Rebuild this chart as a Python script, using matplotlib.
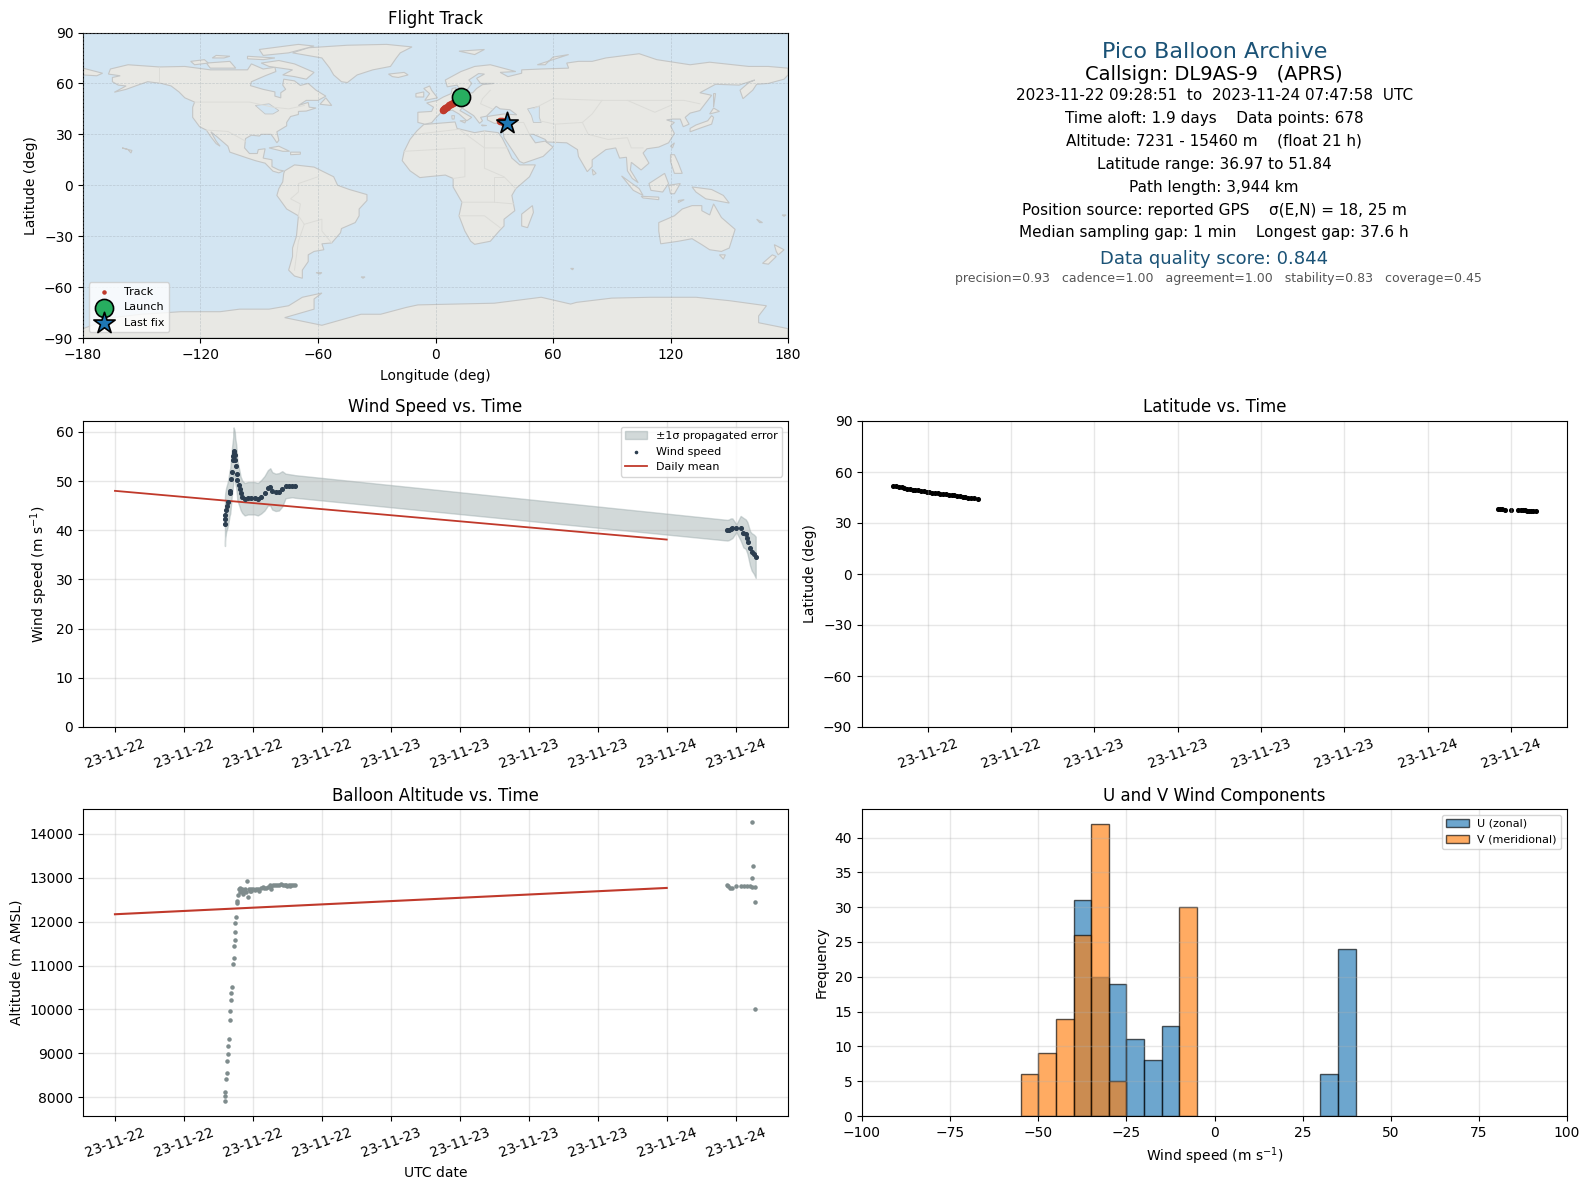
import numpy as np
import pandas as pd
import matplotlib
matplotlib.use('Agg')
import matplotlib.pyplot as plt
import matplotlib.dates as mdates

# hours after 2023-11-22 00:00 UTC
wind_hours = [9.57, 9.57, 9.59, 9.68, 9.77, 9.86, 9.97, 10.03, 10.12, 10.17, 10.29, 10.29, 10.32, 10.38,
              10.43, 10.46, 10.55, 10.61, 10.64, 10.75, 10.84, 10.93, 11.07, 11.28, 11.57, 11.86, 12.14,
              12.43, 12.72, 13.01, 13.30, 13.51, 13.68, 13.97, 14.26, 14.55, 14.84, 15.13, 15.42, 15.65,
              53.28, 53.42, 53.57, 53.71, 54.06, 54.43, 54.67, 54.87, 55.01, 55.10, 55.25, 55.39, 55.59, 55.74]
wind_speed = [41.3, 42.2, 43.0, 44.2, 44.9, 45.8, 47.5, 48.0, 50.4, 51.8, 54.2, 55.0, 56.1, 55.7,
              55.2, 54.2, 53.0, 51.4, 50.2, 49.2, 48.4, 47.5, 46.8, 46.3, 46.5, 46.5, 46.5,
              46.3, 46.8, 47.5, 48.6, 48.8, 48.0, 47.7, 47.8, 48.4, 49.0, 49.0, 49.0, 48.9,
              40.0, 40.1, 40.3, 40.4, 40.4, 40.4, 39.5, 39.2, 38.5, 37.7, 36.3, 35.6, 35.1, 34.5]
wind_sigma = [4.5, 4.5, 4.5, 4.5, 4.5, 4.5, 4.6, 4.6, 4.7, 4.7, 4.8, 4.8, 4.8, 4.8,
              4.7, 4.6, 4.4, 4.2, 4.0, 3.8, 3.6, 3.4, 3.3, 3.3, 3.3, 3.3, 3.3,
              3.3, 3.4, 3.5, 3.6, 3.8, 3.8, 3.8, 3.8, 3.6, 2.5, 2.4, 2.3, 2.3,
              2.1, 2.1, 2.1, 2.0, 0.8, 2.5, 3.0, 3.0, 3.2, 3.3, 3.5, 3.8, 4.0, 4.2]
mean_hours = [0, 48]
wind_mean = [48.0, 38.1]
alt_mean = [12170, 12770]

lat_hours = [9.48, 9.7, 9.9, 10.1, 10.3, 10.5, 10.7, 10.9, 11.1, 11.3, 11.5, 11.7, 11.9, 12.1, 12.3, 12.5,
             12.7, 12.9, 13.1, 13.3, 13.5, 13.7, 13.9, 14.1, 14.3, 14.5, 14.7, 14.9, 15.1, 15.3, 15.6,
             53.1, 53.25, 53.4, 53.55, 54.05, 54.55, 54.7, 54.85, 55.0, 55.15, 55.3, 55.45, 55.6, 55.8]
lat_deg = [51.84, 51.5, 51.2, 50.9, 50.5, 50.1, 49.8, 49.6, 49.4, 49.2, 48.9, 48.7, 48.4, 48.2, 47.9, 47.7,
           47.5, 47.3, 47.1, 46.8, 46.6, 46.4, 46.2, 46.0, 45.7, 45.4, 45.2, 45.0, 44.8, 44.6, 44.3,
           38.0, 38.0, 38.0, 37.9, 37.9, 37.6, 37.5, 37.5, 37.4, 37.3, 37.2, 37.1, 37.0, 36.97]

alt_hours = [9.57, 9.57, 9.57, 9.65, 9.74, 9.74, 9.83, 9.83, 9.91, 10.0, 10.0, 10.09, 10.09, 10.17, 10.26, 10.35,
             10.35, 10.43, 10.43, 10.43, 10.52, 10.61, 10.61, 10.7, 10.78, 10.9, 10.9, 11.0, 11.07, 11.13,
             11.19, 11.28, 11.36, 11.48, 11.57, 11.65, 11.71, 11.8, 11.86, 12.0, 12.14, 12.29, 12.43, 12.52,
             12.72, 12.87, 13.0, 13.16, 13.3, 13.45, 13.6, 13.6, 13.74, 13.88, 14.09, 14.3, 14.46, 14.6,
             14.75, 14.9, 15.0, 15.13, 15.25, 15.33, 15.48, 15.62,
             53.28, 53.36, 53.48, 53.65, 54.06, 54.43, 54.72, 55.01, 55.25, 55.45, 55.65,
             55.45, 55.54, 55.45, 55.71, 55.71]
alt_m = [7920, 8015, 8114, 8409, 8545, 8818, 8977, 9159, 9318, 9750, 9955, 10205, 10364, 10500, 11045, 11182,
         11455, 11591, 11773, 11977, 12114, 12432, 12477, 12614, 12735, 12773, 12674, 12697, 12750, 12621,
         12697, 12735, 12674, 12924, 12568, 12750, 12697, 12697, 12750, 12735, 12720, 12750, 12750, 12697,
         12773, 12795, 12773, 12773, 12795, 12826, 12810, 12750, 12826, 12826, 12826, 12848, 12871, 12848,
         12826, 12848, 12810, 12841, 12810, 12826, 12848, 12848,
         12847, 12809, 12763, 12779, 12817, 12809, 12824, 12824, 12809, 12794, 12786,
         14282, 13275, 13000, 12450, 10000]

hist_edges = [-55, -50, -45, -40, -35, -30, -25, -20, -15, -10, -5, 30, 35, 40]
u_counts = [0, 0, 0, 31, 20, 19, 11, 8, 13, 0, 0, 6, 24]
v_counts = [6, 9, 14, 26, 42, 5, 0, 0, 0, 30, 0, 0, 0]

track_lon = [12.9, 12.0, 11.0, 10.0, 9.0, 8.0, 7.0, 6.0, 5.0, 4.2, 3.6, 33.0, 33.8, 34.5, 35.5, 36.3]
track_lat = [51.84, 51.0, 50.2, 49.4, 48.6, 47.8, 47.0, 46.2, 45.5, 44.9, 44.3, 37.8, 37.6, 37.5, 37.2, 36.97]
launch = (12.9, 51.84)
last_fix = (36.3, 36.97)

land = [
    # north america
    [(-166,68.5),(-157,71),(-141,69.7),(-128,70),(-115,68),(-108,68),(-96,68),(-94,71.5),(-88,68.5),(-82,69.5),
     (-81.5,67),(-87,64.5),(-94,61),(-94.5,58.7),(-88,56.5),(-82,55),(-82,52.5),(-79,51.5),(-79,54.5),(-76.5,56.5),
     (-78,59),(-77.5,62.5),(-72,61.5),(-69,58.8),(-65,60),(-61,56),(-56,52.5),(-60,50),(-66,50),(-70,47),(-65,48.8),
     (-64.5,46),(-61,45.5),(-66,43.7),(-70,43.5),(-70,41.7),(-74,40.5),(-76,37),(-76,35),(-81,31.5),(-80,26.5),(-81,25),
     (-82.7,28),(-84,30),(-89,30),(-90,29),(-94,29.5),(-97,27.5),(-97.5,22),(-95,18.7),(-91,18.7),(-90.5,21),(-87,21.5),
     (-88,16),(-83.5,15),(-83.5,11),(-80,9),(-77.5,8.5),(-80,7.3),(-83,8.3),(-87,13),(-92,14.5),(-96,16),(-105,19.5),
     (-106,23),(-112,29),(-114.7,31.5),(-112,26),(-110,23),(-112,24.5),(-115,29),(-117,32.5),(-120.5,34.5),(-124,40),
     (-124,46),(-123,49),(-128,51.5),(-131,55),(-135,58.5),(-140,60),(-147,61),(-152,59),(-158,56.5),(-164,54.8),
     (-158,58.5),(-162,59),(-165,61),(-165,63.5),(-161,64.5),(-167,65.5)],
    [(-73,78),(-65,81),(-45,82.5),(-25,83),(-12,81.5),(-18,78),(-20,75),(-23,70),(-32,68),(-40,65),(-45,60.5),(-48,61),(-52,65),(-54,69),(-58,75)],
    [(-80,73.5),(-72,71.5),(-62,66.5),(-66,62.5),(-72,64),(-78,65),(-73,68),(-85,70),(-89,72)],
    [(-117,72),(-105,73),(-102,69),(-115,69)],
    [(-90,80),(-70,83),(-62,82),(-75,78),(-88,76.5)],
    [(-125,73),(-118,74),(-116,72),(-123,71)],
    [(-96,76),(-82,75),(-88,74),(-96,74.5)],
    [(-112,76.5),(-105,76),(-108,75),(-114,75)],
    [(-59,47.7),(-56,51.5),(-53,47)],
    [(-24,65.5),(-16,66.5),(-14,65),(-19,63.5),(-22,64)],
    [(-85,22),(-80,23),(-74.5,20),(-78,20)],
    [(-74,19.5),(-69,19.5),(-69,18.3),(-74,18)],
    [(-160,22),(-155,20.5),(-155.5,19),(-157,21)],
    [(-180,69),(-170,66),(-173,64.5),(-180,65)],
    [(12,79),(25,80),(20,77)],
    [(52,71),(68,77),(60,75.5),(56,71)],
    # south america
    [(-77,8.5),(-72,12),(-62,10.7),(-52,5),(-50,0),(-44,-2.5),(-35,-5.5),(-35,-9),(-39,-14),(-39,-18),(-41,-22),
     (-48,-25.5),(-48.5,-28),(-53,-34),(-58,-34.5),(-57,-38),(-62,-39),(-65,-41),(-65,-45),(-68,-50),(-68,-54.8),
     (-72,-53.5),(-75,-50),(-73,-42),(-73,-37),(-71,-30),(-70,-18),(-76,-14),(-81,-6),(-80,-2),(-78,2),(-77.5,7)],
    [(-61,-51.5),(-58,-51.5),(-59,-52.3)],
    [(-38,-54),(-36,-54),(-37,-54.8)],
    # africa
    [(-6,35.8),(10,37.3),(11,33.5),(20,31),(25,32),(32,31),(34,28),(37,21),(39,16),(43,12),(51,12),(48,5),(41,-2),
     (39,-6),(40.5,-15),(35,-20),(35,-24),(32.5,-27),(28,-33),(20,-34.8),(18,-33),(15,-27),(12,-18),(13.5,-10),(9,-1),
     (9,4),(5,6),(-4,5),(-8,4.5),(-13,8.5),(-17,14.5),(-16,20),(-13,27),(-9.5,32)],
    [(49.5,-12),(50,-16),(47,-25),(44,-24),(44,-17)],
    # eurasia
    [(-9,37),(-9,43),(-2,43.5),(-1,46),(-4.5,48.5),(1,50),(4,52),(8,54),(8.5,57),(10.5,57.5),(10,54),(14,54),(19,54.5),
     (21,57),(24,59.3),(30,60),(23,60),(21,63),(25,65.5),(22,65.8),(17,62),(18.5,60),(16,56),(13,55.5),(11,59),(6,58),
     (5,62),(13,67),(20,70),(28,71),(41,67),(33,66.5),(37,64),(44,66),(44,68),(54,68.5),(68,69),(67,72),(73,73),(80,73),
     (87,75),(104,77.5),(113,74),(130,71),(140,72.5),(160,70),(170,70),(180,69),(180,65),(178,62.5),(170,60),(164,59.5),
     (162,56),(157,51),(155.5,56),(160,60.5),(163,62),(155,59),(143,59.5),(135,54.5),(141,53),(135,44),(130,42.5),
     (127.5,40),(129.5,36),(126.5,34.5),(125,39),(121,39),(118,38.5),(122,37),(120,35),(122,30.5),(119,25),(114,22.5),
     (108,21.5),(106,19),(109,13),(105,9),(100,13.5),(99.5,9),(103.5,1.5),(100.5,4),(98,8.5),(97.5,16.5),(94,16),(92,22),
     (87,21),(80,15),(80,11),(77.5,8),(73,17),(72.5,21),(67,25),(57,25.5),(56,27),(50,30),(48,30),(51,25),(56,26),
     (60,22.5),(55,17),(45,13),(43,14),(39,21),(35,28),(34.5,31.5),(36,36.5),(30,36.5),(26.5,38.5),(26.5,40.5),(29,41),
     (35,42),(41.5,41.5),(38,44.5),(33,45),(31,46.5),(28,43),(26,40.7),(23,40),(24,38),(22.5,36.5),(19.5,41),(13.5,45.5),
     (12.5,44),(18.5,40),(16,38),(12,42),(8.5,44.3),(3,43),(0,39.5),(-2,36.8),(-5.5,36)],
    [(-5.5,50),(1,51.5),(-2,56),(-3,58.5),(-6,57),(-3,54)],
    [(-10,52),(-6,52),(-6,55),(-10,54)],
    [(12.5,38),(15.5,38),(15,36.7)],
    [(8.3,41),(9.7,41),(9.5,39),(8.5,39)],
    [(23.5,35.5),(26,35.2),(24,35)],
    [(130,31.5),(136,34),(141,36),(142,40),(141,41),(139,38),(133,35.5),(130,33.5)],
    [(140,42),(145,43.5),(142,45.5)],
    [(142,46),(143,54),(142,54)],
    [(120,23),(122,25),(121,22)],
    [(120,18),(122,18),(124,13),(126,7),(122,7),(120,14)],
    [(109,1),(117,7),(119,1),(116,-4),(110,-3)],
    [(95,5.5),(104,-2),(106,-6),(101,-3)],
    [(105,-6.5),(114,-7),(114,-8.5),(106,-7.5)],
    [(119,0),(125,1),(122,-5),(120,-5)],
    [(124,-9),(127,-8.5),(124,-10.2)],
    [(131,-1),(141,-2.5),(147,-6),(150,-10.5),(143,-9),(138,-8),(133,-4)],
    [(80,9.5),(82,7),(80.5,6)],
    [(69,-49),(70.5,-49),(70,-49.8)],
    # australia and around
    [(114,-22),(122,-18),(126,-14),(131,-12),(136,-12),(136,-15),(140,-17.5),(142,-11),(146,-19),(153,-26),(150,-37),
     (146,-39),(140,-38),(136,-35),(131,-31.5),(124,-33),(115,-34.5),(114,-27)],
    [(145,-41),(148,-41),(147,-43.5)],
    [(173,-35),(178,-38),(175,-41),(174,-39)],
    [(172,-41),(174,-42),(170,-46.5),(167,-46)],
    [(164,-20),(167,-22),(165.5,-22)],
    [(177,-17.5),(179,-17.5),(178,-18.3)],
    # antarctica
    [(-180,-90),(-180,-84.5),(-165,-78),(-150,-76),(-130,-74.5),(-110,-74.5),(-100,-73),(-85,-73),(-75,-71),(-68,-66),
     (-58,-63.5),(-62,-67),(-62,-73),(-77,-78),(-58,-82.5),(-38,-76),(-28,-76),(-15,-72),(-9,-70.5),(10,-70),(30,-69.5),
     (54,-66),(69,-70),(72,-69),(90,-66.5),(110,-66),(133,-66),(150,-68),(169,-71),(165,-77),(165,-81),(178,-84),
     (180,-84.5),(180,-90)],
]
lakes = [
    [(47,45),(53,46.5),(53,40),(54,37),(50,37),(49,41)],
    [(-92,47),(-85,48),(-80,44),(-83,42),(-87,42)],
]
borders = [
    [(-141,69.7),(-141,60)],
    [(-123,49),(-95,49),(-83,46),(-75,45),(-67,47)],
    [(-117,32.5),(-106,31.7),(-97,26)],
    [(-70,-18),(-67,-23),(-70,-33),(-72,-50)],
    [(-70,-18),(-69,-11),(-74,-8),(-70,-4),(-70,1),(-60,5)],
    [(-67,-23),(-58,-20),(-58,-27),(-53,-34)],
    [(-10,30),(12,33),(25,22),(37,22)],
    [(25,32),(25,10),(35,5),(41,-2)],
    [(-16,20),(15,22),(15,5),(9,4)],
    [(13.5,-10),(30,-10),(40,-11)],
    [(12,-18),(25,-18),(33,-25)],
    [(30,-10),(30,5),(35,5)],
    [(28,56),(24,51),(23,48),(29,45)],
    [(50,45),(60,51),(85,50),(98,50),(117,50),(127,50),(135,48)],
    [(85,50),(80,42),(75,37),(61,36),(53,38)],
    [(98,50),(112,43),(120,47)],
    [(75,37),(78,30),(88,27),(98,28),(100,22),(106,22)],
    [(61,36),(61,25)],
    [(48,30),(45,37),(36,37)],
    [(35,30),(48,30)],
]

# text, size, colour, x pixel, y pixel
info_lines = [
    ('Pico Balloon Archive', 16, '#1a5276', 1215, 51.5),
    ('Callsign: DL9AS-9   (APRS)', 14, 'black', 1214, 74),
    ('2023-11-22 09:28:51  to  2023-11-24 07:47:58  UTC', 11, 'black', 1215, 95.5),
    ('Time aloft: 1.9 days    Data points: 678', 11, 'black', 1214, 118.5),
    ('Altitude: 7231 - 15460 m    (float 21 h)', 11, 'black', 1214, 140.5),
    ('Latitude range: 36.97 to 51.84', 11, 'black', 1214, 164),
    ('Path length: 3,944 km', 11, 'black', 1214, 187.5),
    ('Position source: reported GPS    σ(E,N) = 18, 25 m', 11, 'black', 1214, 210.5),
    ('Median sampling gap: 1 min    Longest gap: 37.6 h', 11, 'black', 1214, 232.5),
    ('Data quality score: 0.844', 13, '#1a5276', 1214, 258.5),
    ('precision=0.93   cadence=1.00   agreement=1.00   stability=0.83   coverage=0.45', 9, '#555555', 1218, 279),
]

W, H = 1590, 1189
RED = '#c0392b'


def to_time(hours):
    return pd.Timestamp('2023-11-22') + pd.to_timedelta(np.array(hours, dtype=float), unit='h')


def make_axes(left, top, right, bottom):
    return fig.add_axes([left / W, 1 - bottom / H, (right - left) / W, (bottom - top) / H])


def date_axis(ax, first, last):
    ax.set_xlim(to_time([first])[0], to_time([last])[0])
    ax.xaxis.set_major_locator(mdates.HourLocator(byhour=[0, 6, 12, 18]))
    ax.xaxis.set_major_formatter(mdates.DateFormatter('%y-%m-%d'))
    ax.tick_params(axis='x', labelrotation=20)
    ax.grid(True, color='#b0b0b0', alpha=0.3, linewidth=1)


fig = plt.figure(figsize=(W / 100, H / 100), dpi=100)

# map
ax = make_axes(83, 32.5, 788, 338)
ax.set_facecolor('#d3e5f2')
for poly in land:
    xy = np.array(poly)
    ax.fill(xy[:, 0], xy[:, 1], facecolor='#e8e8e4', edgecolor='#c4c6c6', linewidth=0.8, zorder=1)
for poly in lakes:
    xy = np.array(poly)
    ax.fill(xy[:, 0], xy[:, 1], facecolor='#d3e5f2', edgecolor='#c4c6c6', linewidth=0.6, zorder=1.1)
for line in borders:
    xy = np.array(line)
    ax.plot(xy[:, 0], xy[:, 1], color='#dcdcd8', linewidth=0.7, zorder=1.2)
ax.grid(True, color='#9aa5ad', alpha=0.45, linewidth=0.5, linestyle='--', zorder=2)
ax.set_axisbelow(False)
ax.scatter(track_lon, track_lat, s=20, color=RED, label='Track', zorder=3)
ax.scatter(*launch, s=170, color='#27ae60', edgecolor='black', linewidth=1.2, label='Launch', zorder=4)
ax.scatter(*last_fix, s=260, marker='*', color='#1f77b4', edgecolor='black', linewidth=1.2, label='Last fix', zorder=5)
ax.set_xlim(-180, 180)
ax.set_ylim(-90, 90)
ax.set_xticks(range(-180, 181, 60))
ax.set_yticks(range(-90, 91, 30))
ax.set_xlabel('Longitude (deg)', labelpad=5)
ax.set_ylabel('Latitude (deg)')
ax.set_title('Flight Track', fontsize=12, pad=6)
leg = ax.legend(loc='lower left', fontsize=8, borderpad=0.4)
leg.legend_handles[0].set_sizes([5])

# summary text
ax = make_axes(862, 32.5, 1567, 338)
ax.axis('off')
for text, size, colour, xpix, ypix in info_lines:
    fig.text(xpix / W, 1 - ypix / H, text, fontsize=size, color=colour, ha='center', va='center')

# wind speed
ax = make_axes(83, 421, 788, 727)
low = np.array(wind_speed) - np.array(wind_sigma)
high = np.array(wind_speed) + np.array(wind_sigma)
ax.fill_between(to_time(wind_hours), low, high, color='#95a5a6', alpha=0.42, label='±1σ propagated error')
ax.scatter(to_time(wind_hours), wind_speed, s=7, color='#2c3e50', label='Wind speed', zorder=3)
ax.plot(to_time(mean_hours), wind_mean, color=RED, linewidth=1.3, label='Daily mean')
date_axis(ax, -2.78, 58.55)
ax.set_ylim(0, 62.2)
ax.set_ylabel('Wind speed (m s$^{-1}$)')
ax.set_title('Wind Speed vs. Time', fontsize=12, pad=6.5)
ax.legend(fontsize=8, loc='upper right', markerscale=0.6)

# latitude
ax = make_axes(862, 421, 1567, 727)
ax.scatter(to_time(lat_hours), lat_deg, s=7, color='black')
date_axis(ax, 7.25, 58.05)
ax.set_ylim(-90, 90)
ax.set_yticks(range(-90, 91, 30))
ax.set_ylabel('Latitude (deg)')
ax.set_title('Latitude vs. Time', fontsize=12, pad=6.5)

# altitude
ax = make_axes(83, 809, 788, 1116)
ax.scatter(to_time(alt_hours), alt_m, s=5, color='#7f8c8d', zorder=3)
ax.plot(to_time(mean_hours), alt_mean, color=RED, linewidth=1.5, zorder=4)
date_axis(ax, -2.78, 58.55)
ax.set_ylim(7570, 14570)
ax.set_xlabel('UTC date')
ax.set_ylabel('Altitude (m AMSL)')
ax.set_title('Balloon Altitude vs. Time', fontsize=12)

# histogram
ax = make_axes(862, 809, 1567, 1116)
centres = (np.array(hist_edges[:-1]) + np.array(hist_edges[1:])) / 2
_, _, u_bars = ax.hist(centres, bins=hist_edges, weights=u_counts, alpha=0.65, edgecolor='black', label='U (zonal)')
_, _, v_bars = ax.hist(centres, bins=hist_edges, weights=v_counts, alpha=0.65, edgecolor='black', label='V (meridional)')
ax.set_xlim(-100, 100)
ax.set_ylim(0, 44.1)
ax.grid(True, color='#b0b0b0', alpha=0.3, linewidth=1)
ax.set_xlabel('Wind speed (m s$^{-1}$)')
ax.set_ylabel('Frequency')
ax.set_title('U and V Wind Components', fontsize=12)
ax.legend(fontsize=8, loc='upper right')
# empty bins would leave a black edge along the axis, hide them once the legend has its handles
for bar in list(u_bars) + list(v_bars):
    if bar.get_height() == 0:
        bar.set_visible(False)

fig.savefig('out.png', dpi=100)
